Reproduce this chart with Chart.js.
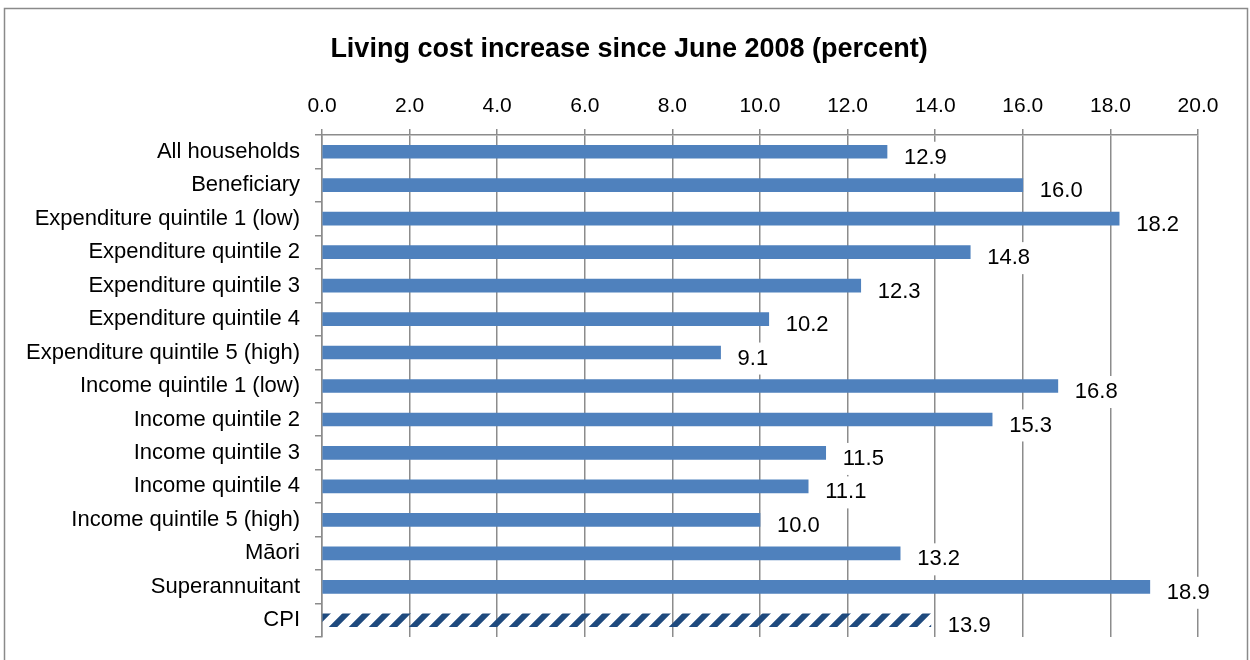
<!DOCTYPE html>
<html>
<head>
<meta charset="utf-8">
<script src="https://cdn.jsdelivr.net/npm/chart.js@4/dist/chart.umd.min.js"></script>
<style>
  html, body { margin: 0; padding: 0; background: #fff; }
  #wrap { width: 1250px; height: 660px; position: relative; }
</style>
</head>
<body>
<div id="wrap"><canvas id="costChart" width="1250" height="660"></canvas></div>
<script>
// Data
const chartTitle = 'Living cost increase since June 2008 (percent)';
const categories = [
    'All households', 'Beneficiary', 'Expenditure quintile 1 (low)',
    'Expenditure quintile 2', 'Expenditure quintile 3', 'Expenditure quintile 4',
    'Expenditure quintile 5 (high)', 'Income quintile 1 (low)', 'Income quintile 2',
    'Income quintile 3', 'Income quintile 4', 'Income quintile 5 (high)',
    'Māori', 'Superannuitant', 'CPI'
];
const increases = [12.9, 16.0, 18.2, 14.8, 12.3, 10.2, 9.1, 16.8, 15.3, 11.5, 11.1, 10.0, 13.2, 18.9, 13.9];
const axisMin = 0;
const axisMax = 20;
const axisStep = 2;

// Theme
const colors = {
    bar: '#4f81bd',
    hatch: '#1f4a7e',
    grid: '#8c8c8c',
    text: '#000000'
};
const fontFamily = '"Liberation Sans", Arial, sans-serif';

// Hatched fill for CPI bar
function makeHatch() {
    const c = document.createElement('canvas');
    c.width = 20;
    c.height = 20;
    const g = c.getContext('2d');
    g.strokeStyle = colors.hatch;
    g.lineWidth = 6;
    g.beginPath();
    g.moveTo(-5, 25); g.lineTo(25, -5);
    g.moveTo(-15, 15); g.lineTo(5, -5);
    g.moveTo(15, 25); g.lineTo(35, 5);
    g.stroke();
    return g.createPattern(c, 'repeat');
}
const hatch = makeHatch();
const barColors = categories.map(c => c === 'CPI' ? hatch : colors.bar);

// Value labels on a white box, like the original
const valueLabels = {
    id: 'valueLabels',
    afterDatasetsDraw(chart) {
        const ctx = chart.ctx;
        const meta = chart.getDatasetMeta(0);
        ctx.save();
        ctx.font = '22px ' + fontFamily;
        ctx.textBaseline = 'middle';
        meta.data.forEach((bar, i) => {
            const txt = increases[i].toFixed(1);
            const w = ctx.measureText(txt).width;
            const x = bar.x + 17;
            const y = bar.y + 6;
            ctx.fillStyle = '#ffffff';
            ctx.fillRect(x - 6, y - 16, w + 12, 32);
            ctx.fillStyle = colors.text;
            ctx.fillText(txt, x, y);
        });
        ctx.restore();
    }
};

// Frame and title (title sits a little right of the canvas centre)
const frame = {
    id: 'frame',
    beforeDraw(chart) {
        const ctx = chart.ctx;
        ctx.save();
        ctx.fillStyle = '#ffffff';
        ctx.fillRect(0, 0, chart.width, chart.height);
        ctx.strokeStyle = '#8a8a8a';
        ctx.lineWidth = 1.5;
        ctx.strokeRect(4.5, 8.5, 1243, 700);
        ctx.fillStyle = colors.text;
        ctx.font = 'bold 27px ' + fontFamily;
        ctx.textAlign = 'center';
        ctx.textBaseline = 'middle';
        ctx.fillText(chartTitle, 629, 50);
        ctx.restore();
    }
};

const ctx = document.getElementById('costChart').getContext('2d');
new Chart(ctx, {
    type: 'bar',
    data: {
        labels: categories,
        datasets: [{
            data: increases,
            backgroundColor: barColors,
            borderWidth: 0,
            barThickness: 13
        }]
    },
    options: {
        indexAxis: 'y',
        responsive: false,
        animation: false,
        layout: {
            padding: { left: 0, right: 52, top: 75, bottom: 23 }
        },
        plugins: {
            legend: { display: false },
            tooltip: { enabled: false },
            title: { display: false }
        },
        scales: {
            x: {
                position: 'top',
                min: axisMin,
                max: axisMax,
                afterFit: scale => {
                    scale.height = 60;
                    scale.paddingLeft = 0;
                    scale.paddingRight = 0;
                },
                grid: {
                    color: colors.grid,
                    lineWidth: 1.5,
                    tickLength: 6
                },
                border: { display: true, color: colors.grid, width: 1.5 },
                ticks: {
                    stepSize: axisStep,
                    color: colors.text,
                    padding: 10,
                    font: { family: fontFamily, size: 21 },
                    callback: v => Number(v).toFixed(1)
                }
            },
            y: {
                afterFit: scale => {
                    scale.width = 322;
                    scale.paddingTop = 0;
                    scale.paddingBottom = 0;
                },
                grid: {
                    offset: true,
                    drawOnChartArea: false,
                    color: colors.grid,
                    lineWidth: 1.5,
                    tickLength: 7
                },
                border: { display: true, color: colors.grid, width: 1.5 },
                ticks: {
                    color: colors.text,
                    padding: 15,
                    autoSkip: false,
                    font: { family: fontFamily, size: 22 }
                }
            }
        }
    },
    plugins: [frame, valueLabels]
});
</script>
</body>
</html>
